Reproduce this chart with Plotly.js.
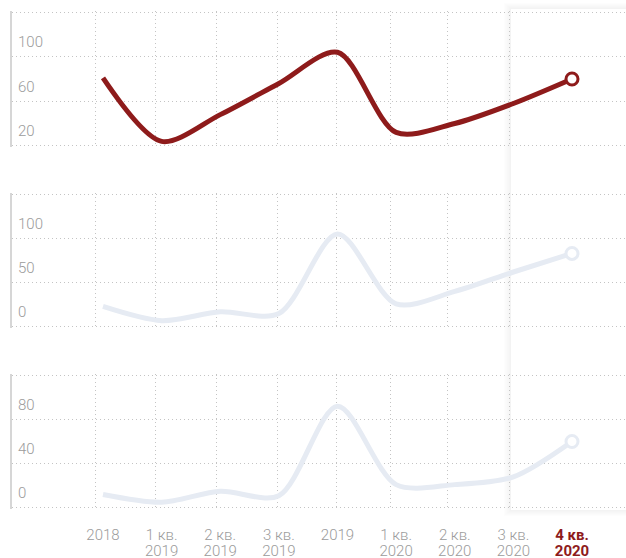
<!DOCTYPE html>
<html>
<head>
<meta charset="utf-8">
<script src="https://cdn.plot.ly/plotly-3.0.1.min.js"></script>
<style>html,body{margin:0;padding:0;background:#fff;}#chart{width:626px;height:558px;}</style>
</head>
<body>
<div id="chart"></div>
<script>
// ---- data ----
const categories = ["2018", "1 кв. 2019", "2 кв. 2019", "3 кв. 2019", "2019", "1 кв. 2020", "2 кв. 2020", "3 кв. 2020", "4 кв. 2020"];
const tickLine1 = ["2018", "1 кв.", "2 кв.", "3 кв.", "2019", "1 кв.", "2 кв.", "3 кв.", "<b>4 кв.</b>"];
const tickLine2 = ["", "2019", "2019", "2019", "", "2020", "2020", "2020", "<b>2020</b>"];
const seriesTop = [81, 24, 48, 76, 104, 32, 40, 58, 80];
const seriesMid = [23, 7, 17, 15, 105, 26, 40, 62, 83];
const seriesBot = [12, 5, 15, 11, 92, 21, 21, 28, 60];
const yTicksTop = [20, 60, 100, 140];
const yTicksMid = [0, 50, 100, 150];
const yTicksBot = [0, 40, 80, 120];

// ---- styling ----
const RED = "#8e1b1b";
const PALE = "#e6ebf3";
const GRID = "#c4c4c4";
const TICKC = "#9b9b9b";
const FONT = "Roboto, 'Open Sans', sans-serif";
const DOT = "1px,3px";
const idx = categories.map((_, i) => i);
const last = categories.length - 1;
const gridPos = [-0.12, 0.9, 1.93, 2.97, 3.99, 4.9, 5.87, 6.93];
const SMOOTH = 0.85;

function colorize(labels) {
  return labels.map((t, i) => i === last ? '<span style="color:' + RED + '">' + t + '</span>' : t);
}

function lineTrace(vals, color, xa, ya) {
  return {x: idx, y: vals, xaxis: xa, yaxis: ya, type: "scatter", mode: "lines",
    line: {color: color, width: 5, shape: "spline", smoothing: SMOOTH},
    hoverinfo: "skip", showlegend: false, cliponaxis: false};
}
function endTrace(vals, color, xa, ya) {
  return {x: [idx[last]], y: [vals[last]], xaxis: xa, yaxis: ya, type: "scatter", mode: "markers",
    marker: {symbol: "circle", size: 12, color: "#ffffff", line: {color: color, width: 3}},
    hoverinfo: "skip", showlegend: false, cliponaxis: false};
}

const data = [
  lineTrace(seriesTop, RED, "x3", "y3"), endTrace(seriesTop, RED, "x3", "y3"),
  lineTrace(seriesMid, PALE, "x2", "y2"), endTrace(seriesMid, PALE, "x2", "y2"),
  lineTrace(seriesBot, PALE, "x", "y"), endTrace(seriesBot, PALE, "x", "y"),
  // invisible carrier for the second tick-label row
  {x: [idx[0]], y: [seriesBot[0]], xaxis: "x4", yaxis: "y", type: "scatter", mode: "markers",
    marker: {size: 1, color: "rgba(0,0,0,0)"}, hoverinfo: "skip", showlegend: false}
];

const xr = [-1.552, 8.921];
const tickFont = {family: FONT, size: 15, color: TICKC, weight: 300};
function xAxis(anchor, labels, len, withGrid) {
  const ax = {anchor: anchor, range: xr, fixedrange: true, showgrid: false, zeroline: false, showline: false,
    tickmode: "array", tickvals: idx, ticktext: labels ? colorize(labels) : idx.map(() => ""),
    showticklabels: !!labels, ticks: labels ? "outside" : "", ticklen: len, tickcolor: "rgba(0,0,0,0)",
    tickfont: tickFont};
  if (withGrid) {
    ax.minor = {tickmode: "array", tickvals: gridPos, showgrid: true, gridcolor: GRID, griddash: DOT, gridwidth: 1, ticks: ""};
  }
  return ax;
}
function yAxis(domain, ticks, anchor) {
  const span = ticks[ticks.length - 1] - ticks[0];
  const pad = span * 1.2 / 136;
  return {domain: domain, anchor: anchor, range: [ticks[0] - pad, ticks[ticks.length - 1] + pad], fixedrange: true,
    tickmode: "array", tickvals: ticks, ticktext: ticks.map((v, i) => i === ticks.length - 1 ? "" : String(v)),
    showgrid: true, gridcolor: GRID, griddash: DOT, gridwidth: 1, zeroline: false,
    showline: true, linecolor: "#d6d6d6", linewidth: 2, ticks: "",
    ticklabelposition: "inside", ticklabelshift: -15, ticklabelstandoff: 6,
    tickfont: tickFont};
}

// shadowed column behind the last quarter
const bx0 = 0.8127, bx1 = 1.05, by0 = 0.086, by1 = 0.9839;
const shapes = [];
for (let k = 6; k >= 1; k--) {
  const dx = k * 1.2 / 614, dy = k * 1.0 / 558;
  shapes.push({type: "rect", xref: "paper", yref: "paper", layer: "below",
    x0: bx0 - dx, x1: bx1, y0: by0 - dy, y1: by1 + dy, line: {width: 0}, fillcolor: "rgba(0,0,0,0.007)"});
}
shapes.push({type: "rect", xref: "paper", yref: "paper", layer: "below",
  x0: bx0, x1: bx1, y0: by0, y1: by1, line: {width: 0}, fillcolor: "#ffffff"});

const layout = {
  width: 626, height: 558,
  margin: {l: 12, r: 0, t: 0, b: 0, pad: 0},
  paper_bgcolor: "#ffffff", plot_bgcolor: "rgba(0,0,0,0)",
  showlegend: false,
  font: {family: FONT, color: TICKC},
  xaxis: xAxis("y", tickLine1, 12, true),
  xaxis2: Object.assign(xAxis("y2", null, 0, true), {matches: "x"}),
  xaxis3: Object.assign(xAxis("y3", null, 0, true), {matches: "x"}),
  xaxis4: Object.assign(xAxis("y", tickLine2, 28, false), {overlaying: "x", matches: "x"}),
  yaxis: yAxis([0.0878, 0.3297], yTicksBot, "x"),
  yaxis2: yAxis([0.4122, 0.6541], yTicksMid, "x2"),
  yaxis3: yAxis([0.7366, 0.9803], yTicksTop, "x3"),
  shapes: shapes
};

Plotly.newPlot("chart", data, layout, {staticPlot: true, displayModeBar: false});
</script>
</body>
</html>
